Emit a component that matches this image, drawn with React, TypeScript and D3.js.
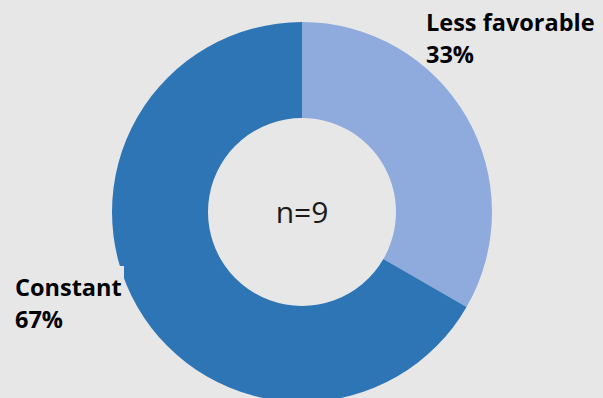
import React from "react";
import * as d3 from "d3";

const categories = ["Less favorable", "Constant"];
const values = [3, 6];
const percentLabels = ["33%", "67%"];
const colors = ["#8faadc", "#2e75b6"];
const centerLabel = "n=9";

const W = 603;
const H = 398;

export default function App() {
  const cx = 302;
  const cy = 212;
  const outerR = 190;
  const innerR = 94;
  const pie = d3.pie<number>().sort(null).value((d) => d)(values);
  const arc = d3.arc<d3.PieArcDatum<number>>().innerRadius(innerR).outerRadius(outerR);
  const font = "'Open Sans', 'Liberation Sans', sans-serif";
  return (
    <div style={{ position: "absolute", left: 0, top: 0 }}>
      <svg width={W} height={H} style={{ display: "block" }}>
        <rect x={0} y={0} width={W} height={H} fill="#e7e7e7" />
        <g transform={`translate(${cx},${cy})`}>
          {pie.map((p, i) => (
            <path key={categories[i]} d={arc(p) || ""} fill={colors[i]} />
          ))}
          <text x={0} y={11} textAnchor="middle" fontFamily={font} fontSize={30} fill="#1a1a1a">
            {centerLabel}
          </text>
        </g>
        <g fontFamily={font} fontWeight="bold" fontSize={23.5} fill="#000">
          <text x={426} y={31}>{categories[0]}</text>
          <text x={426} y={63}>{percentLabels[0]}</text>
        </g>
        <rect x={8} y={266} width={116} height={72} fill="#e7e7e7" />
        <g fontFamily={font} fontWeight="bold" fontSize={23.5} fill="#000">
          <text x={15} y={296}>{categories[1]}</text>
          <text x={15} y={328}>{percentLabels[1]}</text>
        </g>
      </svg>
    </div>
  );
}
